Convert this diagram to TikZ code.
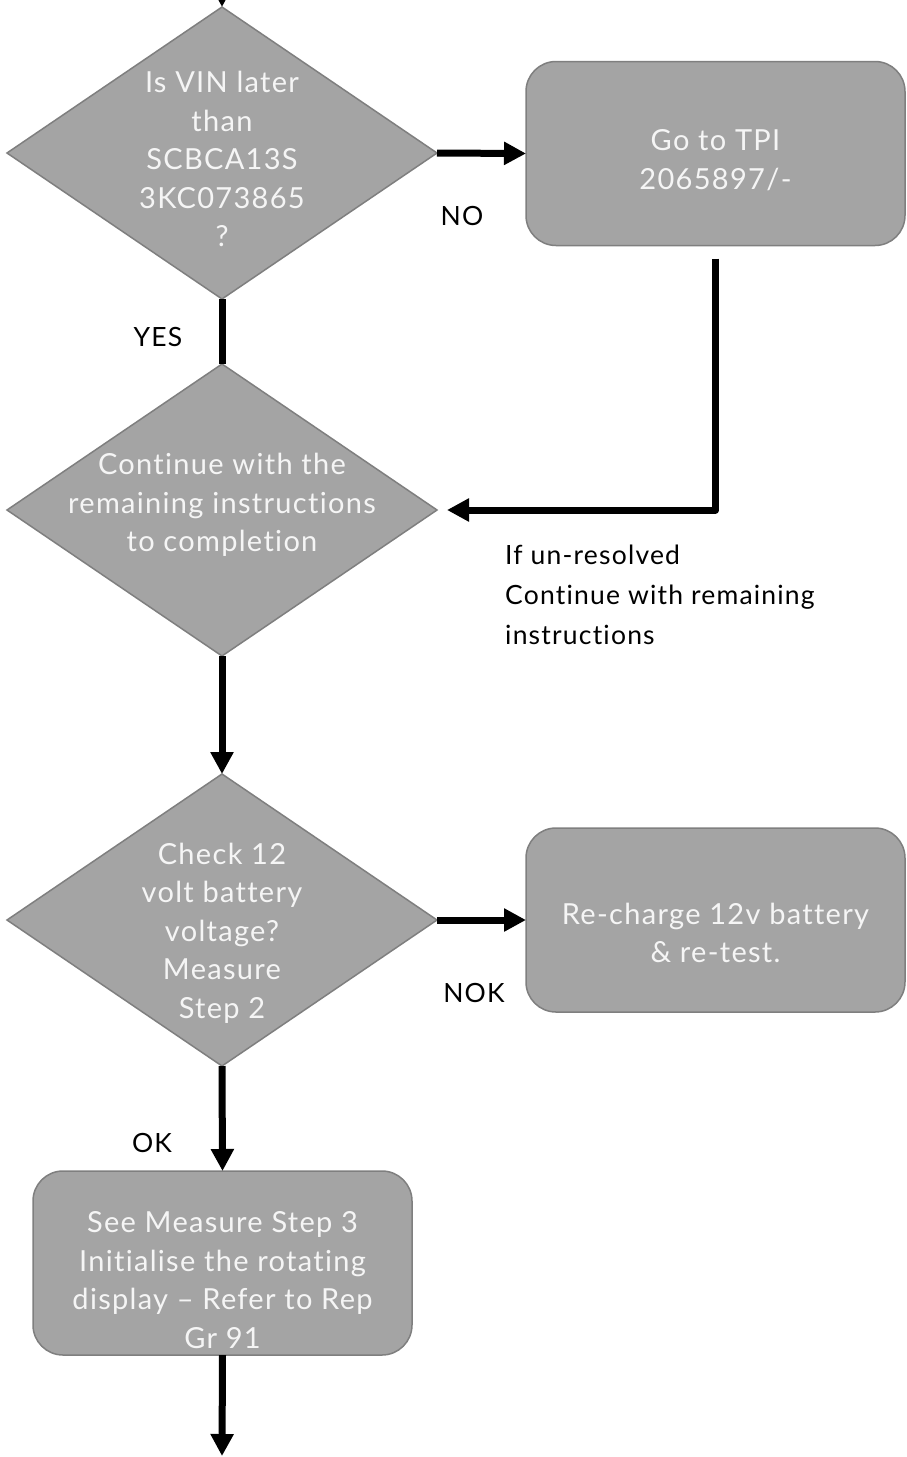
\documentclass[tikz,border=0pt]{standalone}
\usepackage{fontspec}
\setmainfont{Lato}[LetterSpace=4.5,Ligatures={NoCommon}]
\usetikzlibrary{shapes.geometric,arrows.meta}
\definecolor{boxfill}{HTML}{A4A4A4}
\definecolor{boxline}{HTML}{7F7F7F}
\definecolor{boxtext}{HTML}{F5F5F5}
\begin{document}
\begin{tikzpicture}[x=1pt,y=-1pt,
 decision/.style={diamond, draw=boxline, line width=1.5pt, fill=boxfill, minimum width=430pt, minimum height=292pt, inner sep=0pt, outer sep=0pt},
 procbox/.style={rectangle, rounded corners=30pt, draw=boxline, line width=1.5pt, fill=boxfill, minimum width=379pt, minimum height=184pt, inner sep=0pt, outer sep=0pt},
 intext/.style={text=boxtext, font=\fontsize{29}{38.5}\selectfont, align=center, inner sep=0pt},
 lbl/.style={text=black, font=\fontsize{26.5}{40}\selectfont, align=left, inner sep=0pt},
 arr/.style={line width=7pt, line join=round, -{Triangle[length=22pt,width=22pt]}},
 conn/.style={line width=7pt}
]
\useasboundingbox (0,0) rectangle (906,1457);

\node[decision] (d1) at (222,153) {};
\node[decision] (d2) at (222,510) {};
\node[decision] (d3) at (222,920) {};
\node[procbox] (b1) at (715.5,153.5) {};
\node[procbox] (b2) at (715.5,920) {};
\node[procbox] (b3) at (222.5,1263) {};

\node[intext] (d1t) at (222,159) {Is VIN later\\than\\SCBCA13S\\3KC073865\\?};
\node[intext] (d2t) at (222,505) {Continue with the\\remaining instructions\\to completion};
\node[intext] (d3t) at (222,933) {Check 12\\volt battery\\voltage?\\Measure\\Step 2};
\node[intext] (b1t) at (715.5,160) {Go to TPI\\2065897/-};
\node[intext] (b2t) at (715.5,933) {Re-charge 12v battery\\\& re-test.};
\node[intext] (b3t) at (222.5,1280) {See Measure Step 3\\Initialise the rotating\\display -- Refer to Rep\\Gr 91};

\node[lbl] (lno) at (462,216) {NO};
\node[lbl] (lyes) at (158,337) {YES};
\node[lbl] (lnok) at (474,993) {NOK};
\node[lbl] (lok) at (152,1143) {OK};
\node[lbl, anchor=west] (lunres) at (505,595) {If un-resolved\\Continue with remaining\\instructions};

\coordinate (top) at (222,-30);
\coordinate (bot) at (222,1456);

\draw[arr] (top) -- (d1.north);
\draw[arr] (d1.east) -- (b1.west);
\draw[conn] (d1.south) -- (d2.north);
\draw[arr, shorten <=13pt, shorten >=10pt] (b1.south) |- (d2.east);
\draw[arr] (d2.south) -- (d3.north);
\draw[arr] (d3.east) -- (b2.west);
\draw[arr] (d3.south) -- (b3.north);
\draw[arr] (b3.south) -- (bot);
\end{tikzpicture}
\end{document}
